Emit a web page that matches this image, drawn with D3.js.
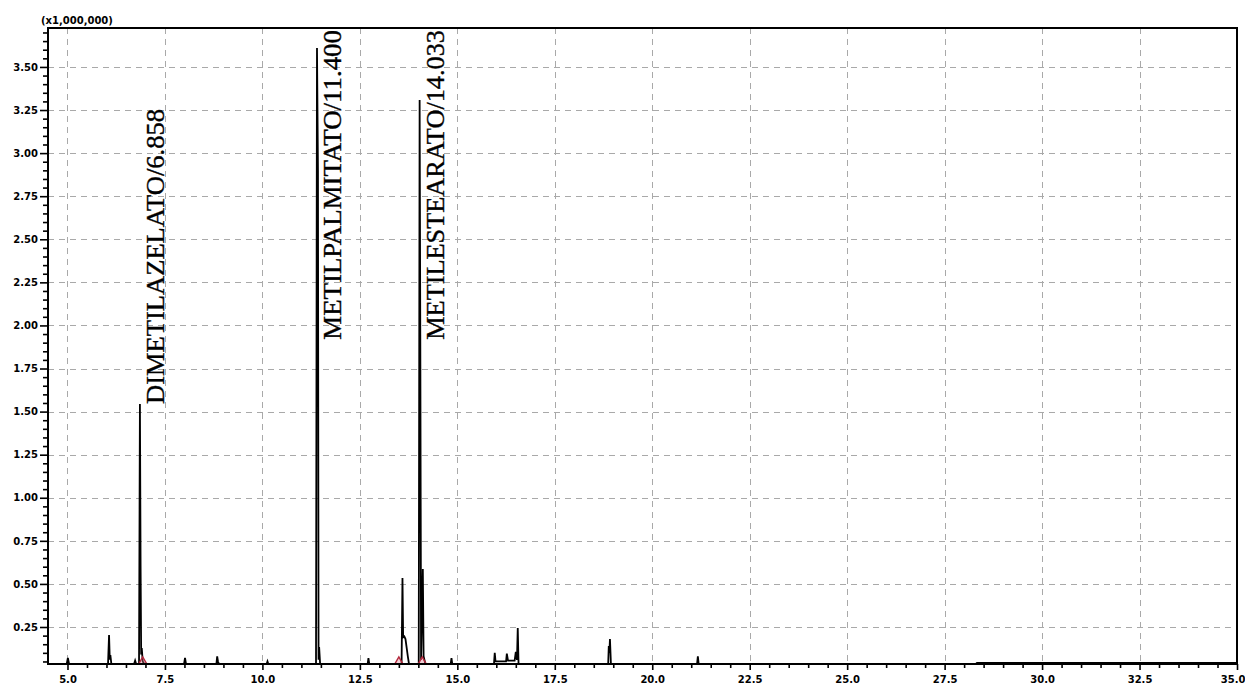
<!DOCTYPE html>
<html>
<head>
<meta charset="utf-8">
<script src="https://cdn.jsdelivr.net/npm/d3@7/dist/d3.min.js"></script>
<style>
  html, body { margin: 0; padding: 0; background: #fff; }
  svg { display: block; }
  .tick text { font-family: "DejaVu Sans", sans-serif; font-weight: bold; font-size: 10px; fill: #000; }
</style>
</head>
<body>
<svg id="chart" width="1245" height="688"></svg>
<script>
// Chromatogram trace: retention time (min) and intensity (x1,000,000 counts)
const traceTime = [
  4.50, 4.98, 5.01, 5.04, 6.04, 6.066, 6.085, 6.10, 6.125, 6.71, 6.735, 6.76,
  6.835, 6.858, 6.875, 6.89, 6.905, 6.93, 6.97, 7.99, 8.015, 8.04, 8.82, 8.84,
  8.86, 8.885, 10.11, 10.13, 10.15, 11.375, 11.400, 11.425, 11.44, 11.455, 11.48,
  12.70, 12.72, 12.74, 13.57, 13.593, 13.61, 13.64, 13.67, 13.70, 13.73, 13.76,
  14.01, 14.033, 14.05, 14.07, 14.115, 14.135, 14.18, 14.83, 14.85, 14.87,
  15.94, 15.96, 15.98, 16.25, 16.27, 16.30, 16.47, 16.50, 16.53, 16.55, 16.57,
  18.87, 18.885, 18.90, 18.915, 18.94, 21.15, 21.17, 21.19, 28.30, 28.33, 35.00
];
const traceSignal = [
  0.036, 0.036, 0.070, 0.036, 0.036, 0.204, 0.060, 0.087, 0.036, 0.036, 0.055, 0.036,
  0.036, 1.544, 0.610, 0.090, 0.128, 0.050, 0.036, 0.036, 0.070, 0.036, 0.036, 0.080,
  0.050, 0.036, 0.036, 0.050, 0.036, 0.036, 3.610, 2.896, 0.060, 0.134, 0.036,
  0.036, 0.070, 0.036, 0.036, 0.534, 0.190, 0.195, 0.180, 0.130, 0.080, 0.036,
  0.036, 3.308, 1.944, 0.060, 0.587, 0.080, 0.036, 0.036, 0.070, 0.036,
  0.036, 0.100, 0.050, 0.050, 0.095, 0.055, 0.055, 0.105, 0.060, 0.244, 0.036,
  0.036, 0.139, 0.100, 0.180, 0.036, 0.036, 0.080, 0.036, 0.036, 0.042, 0.042
];

// Identified compounds
const peakNames = ["DIMETILAZELATO", "METILPALMITATO", "METILESTEARATO"];
const peakTimes = [6.858, 11.400, 14.033];
const peakHeights = [1.544, 3.610, 3.308];

// Integration markers (retention times)
const markerTimes = [6.93, 13.50, 14.10];

// Axis ticks
const xTickValues = [5.0, 7.5, 10.0, 12.5, 15.0, 17.5, 20.0, 22.5, 25.0, 27.5, 30.0, 32.5, 35.0];
const xTickLabels = ["5.0", "7.5", "10.0", "12.5", "15.0", "17.5", "20.0", "22.5", "25.0", "27.5", "30.0", "32.5", "35.0"];
const yTickValues = [0.25, 0.50, 0.75, 1.00, 1.25, 1.50, 1.75, 2.00, 2.25, 2.50, 2.75, 3.00, 3.25, 3.50];
const yTickLabels = ["0.25", "0.50", "0.75", "1.00", "1.25", "1.50", "1.75", "2.00", "2.25", "2.50", "2.75", "3.00", "3.25", "3.50"];
const yUnitLabel = "(x1,000,000)";

const svg = d3.select("#chart");
const plotL = 48, plotR = 1237, plotT = 28, plotB = 664;

const x = d3.scaleLinear().domain([4.5, 35.0]).range([plotL, plotR]);
const y = d3.scaleLinear().domain([0.0353, 3.726]).range([plotB, plotT]);

svg.append("rect").attr("width", 1245).attr("height", 688).attr("fill", "#fff");

// Dashed grid
const grid = svg.append("g").attr("stroke", "#a9a9a9").attr("stroke-width", 1).attr("stroke-dasharray", "6,5");
grid.selectAll("line.v").data(xTickValues.filter(d => d < 35)).join("line").attr("class", "v")
  .attr("x1", d => Math.round(x(d)) + 0.5).attr("x2", d => Math.round(x(d)) + 0.5)
  .attr("y1", plotT).attr("y2", plotB);
grid.selectAll("line.h").data(yTickValues).join("line").attr("class", "h")
  .attr("y1", d => Math.round(y(d)) + 0.5).attr("y2", d => Math.round(y(d)) + 0.5)
  .attr("x1", plotL).attr("x2", plotR);

// Minor ticks
const xMinor = d3.range(5.0, 35.01, 0.5).filter(v => !xTickValues.some(t => Math.abs(t - v) < 1e-6));
const yMinor = d3.range(0.05, 3.72, 0.05).filter(v => !yTickValues.some(t => Math.abs(t - v) < 1e-6));

svg.append("g").attr("transform", `translate(0,${plotB})`)
  .call(d3.axisBottom(x).tickValues(xMinor).tickSize(4).tickFormat(""))
  .call(g => g.select(".domain").remove())
  .call(g => g.selectAll("line").attr("stroke", "#000").attr("stroke-width", 1.6));
svg.append("g").attr("transform", `translate(${plotL},0)`)
  .call(d3.axisLeft(y).tickValues(yMinor).tickSize(5).tickFormat(""))
  .call(g => g.select(".domain").remove())
  .call(g => g.selectAll("line").attr("stroke", "#000").attr("stroke-width", 1.6));

// Major axes
svg.append("g").attr("transform", `translate(0,${plotB})`)
  .call(d3.axisBottom(x).tickValues(xTickValues).tickSize(6).tickFormat((d, i) => xTickLabels[i]))
  .call(g => g.select(".domain").remove())
  .call(g => g.selectAll("line").attr("stroke", "#000").attr("stroke-width", 1.6))
  .call(g => g.selectAll("text").attr("y", 12))
  .call(g => g.selectAll("text").filter(d => d === 35).attr("text-anchor", "end").attr("x", 8));
svg.append("g").attr("transform", `translate(${plotL},0)`)
  .call(d3.axisLeft(y).tickValues(yTickValues).tickSize(8).tickPadding(2).tickFormat((d, i) => yTickLabels[i]))
  .call(g => g.select(".domain").remove())
  .call(g => g.selectAll("line").attr("stroke", "#000").attr("stroke-width", 1.6));

svg.append("text")
  .attr("x", 41).attr("y", 24)
  .attr("font-family", "DejaVu Sans, sans-serif").attr("font-weight", "bold").attr("font-size", 10)
  .text(yUnitLabel);

// Trace
const trace = traceTime.map((t, i) => [t, traceSignal[i]]);
svg.append("path")
  .datum(trace)
  .attr("fill", "none").attr("stroke", "#000").attr("stroke-width", 1.8)
  .attr("stroke-linejoin", "miter")
  .attr("d", d3.line().x(d => x(d[0])).y(d => y(d[1])));

// Integration markers
svg.append("g").selectAll("path").data(markerTimes).join("path")
  .attr("d", d => {
    const cx = x(d), by = y(0.036);
    return `M${cx - 4},${by} L${cx},${by - 7} L${cx + 4},${by}`;
  })
  .attr("fill", "rgba(220,120,140,0.35)").attr("stroke", "#b3283c").attr("stroke-width", 1.4);

// Frame
svg.append("rect")
  .attr("x", plotL).attr("y", plotT).attr("width", plotR - plotL).attr("height", plotB - plotT)
  .attr("fill", "none").attr("stroke", "#000").attr("stroke-width", 2);

// Peak labels, written vertically beside each peak and kept inside the frame
const charLen = 14.75;
const labelText = (d, i) => d + "/" + peakTimes[i].toFixed(3);
svg.append("g").selectAll("text").data(peakNames).join("text")
  .attr("font-family", "Liberation Serif, serif").attr("font-size", 25)
  .attr("fill", "#000").attr("stroke", "#000").attr("stroke-width", 0.35)
  .attr("textLength", (d, i) => labelText(d, i).length * charLen)
  .attr("lengthAdjust", "spacingAndGlyphs")
  .attr("transform", (d, i) => {
    const len = labelText(d, i).length * charLen;
    const by = Math.max(y(peakHeights[i]), plotT + 2 + len);
    return `translate(${x(peakTimes[i]) + 24},${by}) rotate(-90)`;
  })
  .text(labelText);
</script>
</body>
</html>
